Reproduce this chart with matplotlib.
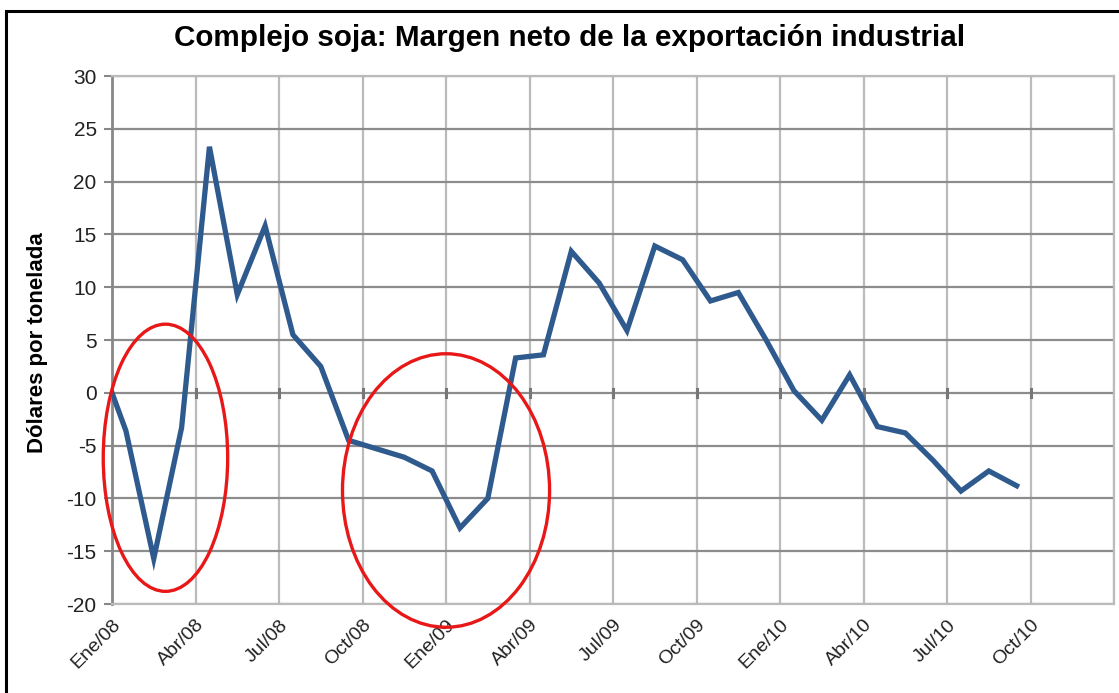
import matplotlib.pyplot as plt
from matplotlib.patches import Ellipse, Rectangle

# meses desde Ene/08 (puntos a mitad de mes, el primero en el eje)
meses = [0, 0.5, 1.5, 2.5, 3.5, 4.5, 5.5, 6.5, 7.5, 8.5, 9.5, 10.5, 11.5,
         12.5, 13.5, 14.5, 15.5, 16.5, 17.5, 18.5, 19.5, 20.5, 21.5, 22.5,
         23.5, 24.5, 25.5, 26.5, 27.5, 28.5, 29.5, 30.5, 31.5, 32.5]
margen = [0.0, -3.6, -15.7, -3.3, 23.3, 9.3, 15.8, 5.5, 2.5, -4.5, -5.3,
          -6.1, -7.4, -12.8, -10.0, 3.3, 3.6, 13.4, 10.4, 5.9, 13.9, 12.6,
          8.7, 9.5, 5.0, 0.2, -2.6, 1.7, -3.2, -3.8, -6.4, -9.3, -7.4, -8.8]
etiquetas = ['Ene/08', 'Abr/08', 'Jul/08', 'Oct/08', 'Ene/09', 'Abr/09',
             'Jul/09', 'Oct/09', 'Ene/10', 'Abr/10', 'Jul/10', 'Oct/10', '']
pos_etiquetas = [0, 3, 6, 9, 12, 15, 18, 21, 24, 27, 30, 33, 36]
y_ticks = [-20, -15, -10, -5, 0, 5, 10, 15, 20, 25, 30]

plt.rcParams['font.family'] = ['Liberation Sans', 'DejaVu Sans']

fig = plt.figure(figsize=(11.19, 6.93), dpi=100)
ax = fig.add_axes([0.1001, 0.1284, 0.8955, 0.7619])

ax.plot(meses, margen, color='#2E5A8E', linewidth=3.8, solid_joinstyle='miter', zorder=3)

ax.set_xlim(0, 36)
ax.set_ylim(-20, 30)
ax.set_xticks(pos_etiquetas)
ax.set_xticklabels(etiquetas, rotation=45, ha='right', rotation_mode='anchor',
                   fontsize=14, color='#222222')
ax.set_yticks(y_ticks)
ax.set_yticklabels([str(v) for v in y_ticks], fontsize=15, color='#222222')
ax.tick_params(axis='x', length=0, pad=9)
ax.tick_params(axis='y', length=6, width=1.5, color='#888888', pad=5)

ax.grid(axis='y', color='#8c8c8c', linewidth=1.6)
ax.grid(axis='x', color='#bbbbbb', linewidth=1.6)
ax.set_axisbelow(True)
for s in ['top', 'right', 'bottom']:
    ax.spines[s].set_color('#bbbbbb')
    ax.spines[s].set_linewidth(1.6)
ax.spines['left'].set_color('#888888')
ax.spines['left'].set_linewidth(2)

# pequenas marcas sobre la linea del cero
for p in pos_etiquetas[1:-1]:
    ax.plot([p, p], [-0.35, 0.35], color='#777777', linewidth=2.2, zorder=2)

ax.add_patch(Ellipse((1.92, -6.15), 4.47, 25.3, fill=False, edgecolor='#e81818',
                     linewidth=2.4, zorder=4, clip_on=False))
ax.add_patch(Ellipse((12.0, -9.25), 7.44, 25.9, fill=False, edgecolor='#e81818',
                     linewidth=2.4, zorder=4, clip_on=False))

fig.text(570 / 1119, 1 - 38 / 693, 'Complejo soja: Margen neto de la exportación industrial',
         fontsize=21.3, fontweight='bold', ha='center', va='center')
fig.text(38 / 1119, 1 - 343 / 693, 'Dólares por tonelada', fontsize=16,
         fontweight='bold', rotation=90, ha='center', va='center')

# marco de la figura
fig.patches.append(Rectangle((6 / 1119, -0.1), 1.2, (1 - 11 / 693) + 0.1,
                             transform=fig.transFigure, fill=False,
                             edgecolor='black', linewidth=2.2))

fig.savefig('out.png', dpi=100)
